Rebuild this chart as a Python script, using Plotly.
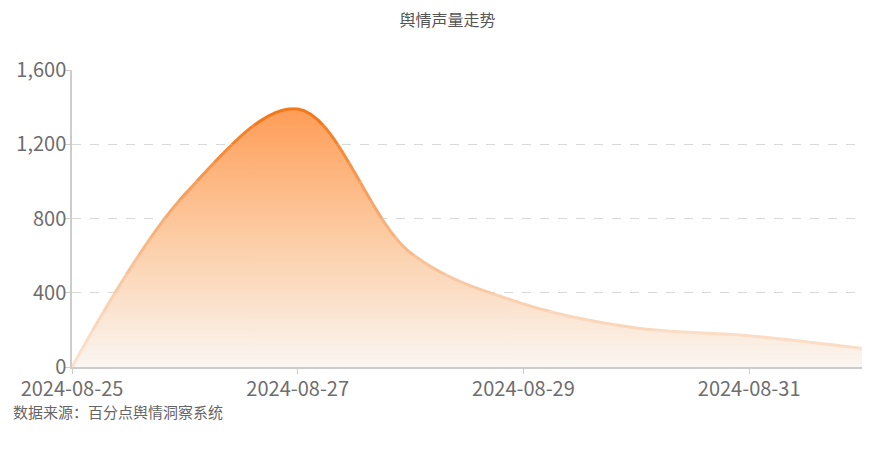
import plotly.graph_objects as go

# ---- data ----
dates = ["2024-08-25", "2024-08-26", "2024-08-27", "2024-08-28",
         "2024-08-29", "2024-08-30", "2024-08-31", "2024-09-01"]
volume = [0, 930, 1390, 615, 340, 210, 168, 100]
title_text = "舆情声量走势"
source_text = "数据来源：百分点舆情洞察系统"
y_max = 1600

FONT = "Noto Sans CJK SC, Noto Sans, sans-serif"

fig = go.Figure()

# filled area with vertical gradient
fig.add_trace(go.Scatter(
    x=dates, y=volume, mode="lines",
    line=dict(shape="spline", smoothing=1.0, width=0, color="rgba(0,0,0,0)", simplify=False),
    fill="tozeroy",
    fillgradient=dict(type="vertical", start=0, stop=1400,
                      colorscale=[[0, "rgb(250,246,242)"], [0.5, "rgb(252,204,164)"], [1, "rgb(255,156,86)"]]),
    hoverinfo="skip", showlegend=False, xaxis="x", yaxis="y",
))

# line coloured by height: same series drawn on stacked bands of identical scale
band_step = 100
n_bands = y_max // band_step
lo_c = (251, 226, 206)
hi_c = (243, 115, 18)
layout_axes = {}
for i in range(n_bands):
    lo = i * band_step
    hi = lo + band_step
    t = min(1.0, (lo + band_step / 2) / 1400)
    t = t ** 1.3
    c = tuple(round(lo_c[k] + (hi_c[k] - lo_c[k]) * t) for k in range(3))
    ax_name = f"y{i + 2}"
    fig.add_trace(go.Scatter(
        x=dates, y=volume, mode="lines",
        line=dict(shape="spline", smoothing=1.0, width=3, color=f"rgb{c}", simplify=False),
        hoverinfo="skip", showlegend=False, xaxis="x", yaxis=ax_name,
    ))
    layout_axes[f"yaxis{i + 2}"] = dict(
        domain=[lo / y_max, hi / y_max], range=[lo, hi], visible=False,
        anchor="x", fixedrange=True, showgrid=False, zeroline=False,
    )

fig.update_layout(
    width=895, height=450,
    margin=dict(l=72, r=33, t=70, b=83),
    paper_bgcolor="white", plot_bgcolor="rgba(0,0,0,0)",
    font=dict(family=FONT, color="#6e6e6e"),
    title=dict(text=title_text, x=0.5, xanchor="center", y=0.955, yanchor="middle",
               font=dict(size=16, color="#555555", family=FONT)),
    xaxis=dict(
        type="date", range=["2024-08-25", "2024-09-01"],
        tick0="2024-08-25", dtick=2 * 86400000, tickformat="%Y-%m-%d",
        showgrid=False, zeroline=False,
        showline=True, linecolor="#cccccc", linewidth=1.5,
        ticks="outside", ticklen=5, tickcolor="#cccccc",
        ticklabelstandoff=-2,
        tickfont=dict(size=20, color="#6e6e6e", family=FONT),
        anchor="y",
    ),
    yaxis=dict(
        range=[0, y_max], dtick=400, tickformat=",d",
        showgrid=True, gridcolor="#d8d8d8", griddash="dash", gridwidth=1,
        zeroline=False,
        showline=True, linecolor="#cccccc", linewidth=1.5,
        ticks="outside", ticklen=5, tickcolor="#cccccc",
        ticklabelstandoff=-5,
        tickfont=dict(size=20, color="#6e6e6e", family=FONT),
        domain=[0, 1],
    ),
    annotations=[dict(
        text=source_text, xref="paper", yref="paper",
        x=-61 / 790, y=-44 / 297, xanchor="left", yanchor="middle",
        showarrow=False, font=dict(size=15, color="#666666", family=FONT),
    )],
    **layout_axes,
)

fig.write_html("out.html", config={"displayModeBar": False},
               post_script="document.body.style.margin='0';")
